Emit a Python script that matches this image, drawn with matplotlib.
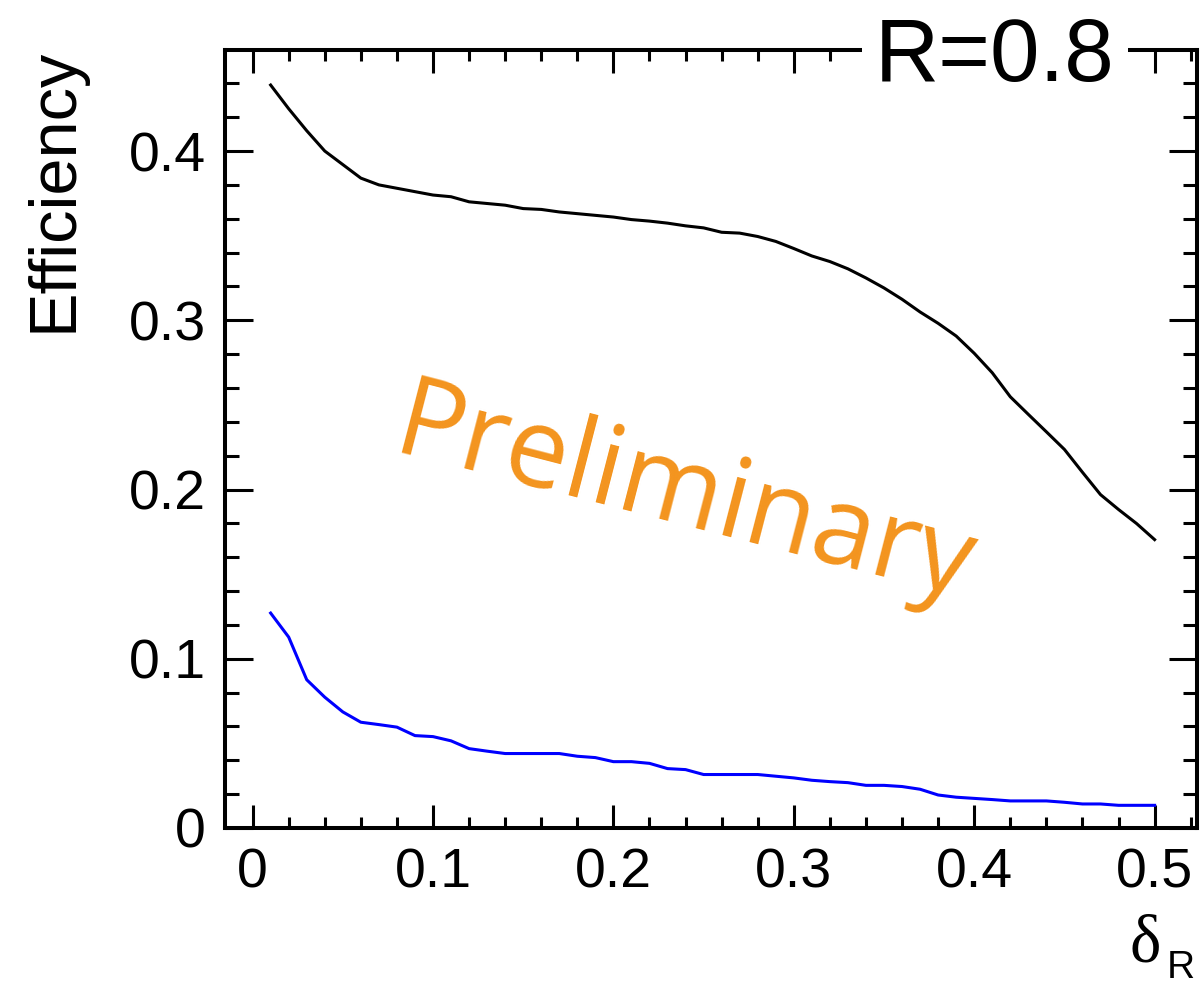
import numpy as np
import matplotlib
matplotlib.use('Agg')
import matplotlib.pyplot as plt
from matplotlib.ticker import MultipleLocator

plt.rcParams['font.family'] = ['Liberation Sans', 'DejaVu Sans']

# delta_R values, 0.01 .. 0.50
delta_r = [0.01, 0.02, 0.03, 0.04, 0.05, 0.06, 0.07, 0.08, 0.09, 0.10,
           0.11, 0.12, 0.13, 0.14, 0.15, 0.16, 0.17, 0.18, 0.19, 0.20,
           0.21, 0.22, 0.23, 0.24, 0.25, 0.26, 0.27, 0.28, 0.29, 0.30,
           0.31, 0.32, 0.33, 0.34, 0.35, 0.36, 0.37, 0.38, 0.39, 0.40,
           0.41, 0.42, 0.43, 0.44, 0.45, 0.46, 0.47, 0.48, 0.49, 0.50]

eff_black = [0.439, 0.425, 0.412, 0.400, 0.392, 0.384, 0.380, 0.378, 0.376, 0.374,
             0.373, 0.370, 0.369, 0.368, 0.366, 0.3655, 0.364, 0.363, 0.362, 0.361,
             0.3595, 0.3586, 0.3574, 0.3558, 0.3546, 0.352, 0.3515, 0.3495, 0.3466, 0.3424,
             0.338, 0.3347, 0.3304, 0.325, 0.3191, 0.3124, 0.3049, 0.2982, 0.2907, 0.2805,
             0.269, 0.2548, 0.2444, 0.2341, 0.2237, 0.2102, 0.197, 0.1882, 0.1799, 0.1704]

eff_blue = [0.127, 0.1128, 0.0876, 0.0773, 0.0686, 0.0625, 0.0611, 0.0596, 0.0546, 0.054,
            0.0515, 0.0469, 0.0454, 0.044, 0.044, 0.044, 0.044, 0.0424, 0.0416, 0.0392,
            0.0392, 0.0382, 0.0351, 0.0345, 0.0316, 0.0316, 0.0316, 0.0316, 0.0306, 0.0296,
            0.0282, 0.0274, 0.0268, 0.0252, 0.0252, 0.0245, 0.0229, 0.0195, 0.0182, 0.0175,
            0.0168, 0.016, 0.016, 0.016, 0.0152, 0.0142, 0.0142, 0.0134, 0.0134, 0.0134]

fig = plt.figure(figsize=(12, 9.84), dpi=100)
ax = fig.add_axes([225/1200, 1-828/984, (1197-225)/1200, (828-50)/984])

ax.plot(delta_r, eff_black, color='black', lw=2.2)
ax.plot(delta_r, eff_blue, color='#0000ff', lw=2.2)

ax.set_xlim(-0.0153, 0.5235)
ax.set_ylim(0, 0.4597)

ax.xaxis.set_major_locator(MultipleLocator(0.1))
ax.xaxis.set_minor_locator(MultipleLocator(0.02))
ax.yaxis.set_major_locator(MultipleLocator(0.1))
ax.yaxis.set_minor_locator(MultipleLocator(0.02))
ax.set_xticks([0, 0.1, 0.2, 0.3, 0.4, 0.5])
ax.set_xticklabels(['0', '0.1', '0.2', '0.3', '0.4', '0.5'])
ax.set_yticks([0, 0.1, 0.2, 0.3, 0.4])
ax.set_yticklabels(['0', '0.1', '0.2', '0.3', '0.4'])

for s in ax.spines.values():
    s.set_linewidth(2.9)
ax.tick_params(axis='both', which='both', direction='in', top=True, right=True,
               width=2.2, labelsize=40)
ax.tick_params(axis='x', which='major', length=16.5, pad=14)
ax.tick_params(axis='x', which='minor', length=8)
ax.tick_params(axis='y', which='major', length=20, pad=14)
ax.tick_params(axis='y', which='minor', length=10)

fig.text(71.7/1200, 1-48/984, 'Efficiency', rotation=90, rotation_mode='anchor',
         ha='right', va='baseline', fontsize=48)

fig.text(1130/1200, 1-962/984, 'δ', fontsize=48, family='Liberation Serif',
         ha='left', va='baseline')
fig.text(1167/1200, 1-978/984, 'R', fontsize=28, ha='left', va='baseline')

fig.text(995/1200, 1-81/984, 'R=0.8', fontsize=64, ha='center', va='baseline',
         bbox=dict(boxstyle='square,pad=0.15', fc='white', ec='none'))

fig.text(684/1200, 1-498/984, 'Preliminary', fontsize=80, color='#f3941e',
         family='Open Sans', rotation=-14.5,
         rotation_mode='anchor', ha='center', va='center')

fig.savefig('out.png', dpi=100)
